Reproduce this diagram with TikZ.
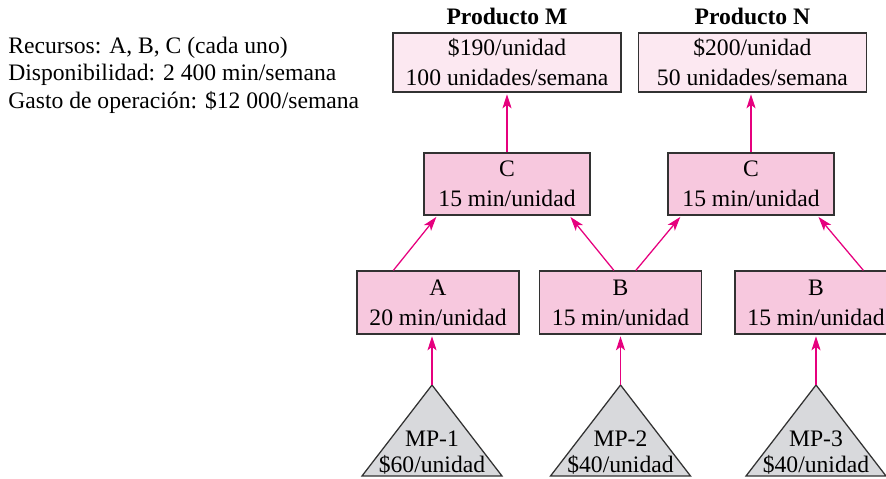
\documentclass[tikz,border=0pt]{standalone}
\usepackage{fontspec}
\setmainfont{Liberation Serif}
\usepackage{tikz}
\usetikzlibrary{calc,arrows.meta}

\definecolor{flujo}{RGB}{230,0,126}
\definecolor{rosa}{RGB}{247,200,222}
\definecolor{rosaclaro}{RGB}{252,232,241}
\definecolor{gris}{RGB}{216,217,220}
\definecolor{borde}{RGB}{50,50,50}

\begin{document}
\begin{tikzpicture}[
 recurso/.style={draw=borde, fill=rosa, line width=0.9pt, minimum width=4.05cm, minimum height=1.575cm, align=center, inner sep=0pt, font=\fontsize{16.8}{21.3}\selectfont},
 producto/.style={recurso, fill=rosaclaro, minimum width=5.7cm, minimum height=1.475cm},
 operacion/.style={recurso, minimum width=4.15cm, minimum height=1.55cm},
 titulo/.style={font=\fontsize{16.8}{20}\selectfont\bfseries, anchor=base, inner sep=0pt},
 flecha/.style={draw=flujo, line width=0.9pt, -{Stealth[length=10pt,width=6.5pt,inset=2.5pt]}, shorten >=1.2pt},
 materia/.style={draw=borde, fill=gris, line width=0.9pt, line join=miter},
 texto/.style={font=\fontsize{16.8}{20}\selectfont, inner sep=0pt, anchor=base}
]
\useasboundingbox (0,0) rectangle (22.15,11.95);

 % datos generales
 \node[anchor=north west, align=left, inner sep=0pt, font=\fontsize{16.8}{19.5}\selectfont] (datos) at (0.2,11.03) {Recursos: A, B, C (cada uno)\\Disponibilidad: 2~400 min/semana\\Gasto de operación: \$12~000/semana};

 % productos
 \node[producto] (pm) at (12.675,10.3875) {\$190/unidad\\100 unidades/semana};
 \node[titulo] (tm) at (12.675,11.325) {Producto M};
 \node[producto] (pn) at (18.81,10.3875) {\$200/unidad\\50 unidades/semana};
 \node[titulo] (tn) at (18.81,11.325) {Producto N};

 % recurso C
 \node[operacion] (cl) at (12.675,7.35) {C\\15 min/unidad};
 \node[operacion] (cr) at (18.775,7.35) {C\\15 min/unidad};

 % recursos A y B
 \node[recurso] (a) at (10.95,4.3875) {A\\20 min/unidad};
 \node[recurso] (b1) at (15.5125,4.3875) {B\\15 min/unidad};
 \node[recurso] (b2) at (20.4,4.3875) {B\\15 min/unidad};

 % materias primas
 \coordinate (mp1) at (10.8,2.325);
 \filldraw[materia] (mp1) -- ++(-1.75,-2.275) -- ++(3.5,0) -- cycle;
 \node[texto] (mp1a) at (10.8,0.8) {MP-1};
 \node[texto] (mp1b) at (10.8,0.15) {\$60/unidad};

 \coordinate (mp2) at (15.5125,2.325);
 \filldraw[materia] (mp2) -- ++(-1.75,-2.275) -- ++(3.5,0) -- cycle;
 \node[texto] (mp2a) at (15.5125,0.8) {MP-2};
 \node[texto] (mp2b) at (15.5125,0.15) {\$40/unidad};

 \coordinate (mp3) at (20.4,2.325);
 \filldraw[materia] (mp3) -- ++(-1.75,-2.275) -- ++(3.5,0) -- cycle;
 \node[texto] (mp3a) at (20.4,0.8) {MP-3};
 \node[texto] (mp3b) at (20.4,0.15) {\$40/unidad};

 % flujo
 \draw[flecha] (mp1) -- (mp1 |- a.south);
 \draw[flecha] (mp2) -- (mp2 |- b1.south);
 \draw[flecha] (mp3) -- (mp3 |- b2.south);

 \draw[flecha] ([xshift=0.925cm]a.north west) -- ([xshift=0.35cm]cl.south west);
 \draw[flecha] ([xshift=1.875cm]b1.north west) -- ([xshift=3.65cm]cl.south west);
 \draw[flecha] ([xshift=2.425cm]b1.north west) -- ([xshift=0.35cm]cr.south west);
 \draw[flecha] ([xshift=3.225cm]b2.north west) -- ([xshift=3.75cm]cr.south west);

 \draw[flecha] (cl.north) -- (pm.south);
 \draw[flecha] (cr.north) -- (cr.north |- pn.south);

\end{tikzpicture}
\end{document}
